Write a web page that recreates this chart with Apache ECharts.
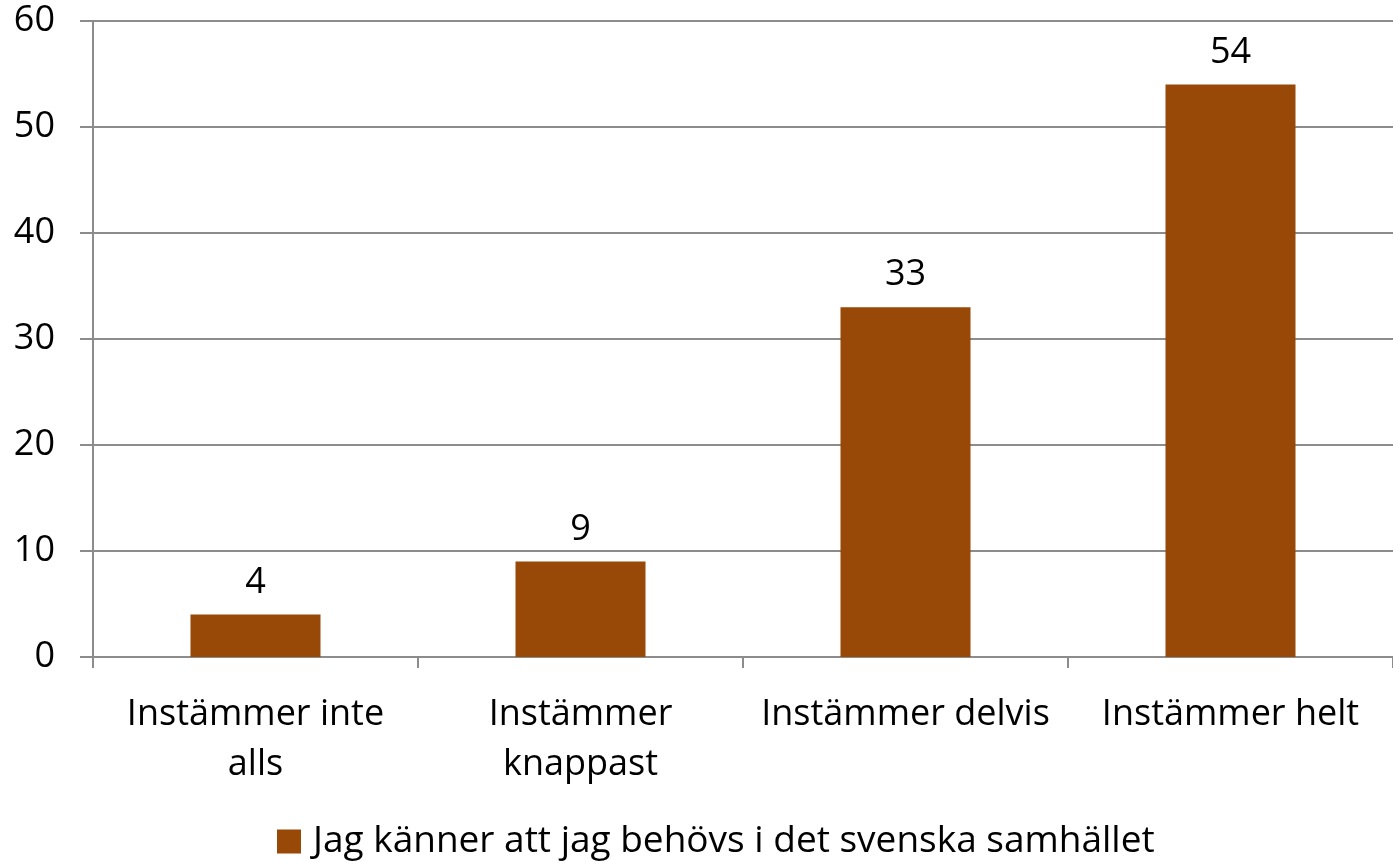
<!DOCTYPE html>
<html><head><meta charset="utf-8">
<script src="https://cdn.jsdelivr.net/npm/echarts@6/dist/echarts.min.js"></script>
<style>html,body{margin:0;padding:0;background:#fff}#c{width:1393px;height:861px}</style>
</head><body><div id="c"></div>
<script>
var categories = ['Instämmer inte\nalls', 'Instämmer\nknappast', 'Instämmer delvis', 'Instämmer helt'];
var values = [4, 9, 33, 54];
var seriesName = 'Jag känner att jag behövs i det svenska samhället';
var yTicks = {min: 0, max: 60, interval: 10};
var font = '"Open Sans", "Noto Sans", sans-serif';
var chart = echarts.init(document.getElementById('c'));
chart.setOption({
  animation: false,
  textStyle: {fontFamily: font},
  grid: {left: 93, right: -8, top: 21, bottom: 204, containLabel: false},
  legend: {
    top: 818, left: 272,
    itemWidth: 24, itemHeight: 24,
    icon: 'rect',
    textStyle: {fontSize: 37, color: '#000', fontFamily: font, padding: [0, 0, 0, 7]},
    data: [seriesName]
  },
  xAxis: {
    type: 'category', data: categories,
    axisLine: {lineStyle: {color: '#8c8c8c', width: 2}},
    axisTick: {show: true, length: 11, lineStyle: {color: '#8c8c8c', width: 2}},
    axisLabel: {fontSize: 36, color: '#000', margin: 33, lineHeight: 50, interval: 0, fontFamily: font}
  },
  yAxis: {
    type: 'value', min: yTicks.min, max: yTicks.max, interval: yTicks.interval,
    axisLine: {show: true, lineStyle: {color: '#8c8c8c', width: 2}},
    axisTick: {show: true, length: 13, lineStyle: {color: '#8c8c8c', width: 2}},
    splitLine: {lineStyle: {color: '#8c8c8c', width: 2}},
    axisLabel: {fontSize: 36, color: '#000', margin: 38, fontFamily: font}
  },
  series: [{
    name: seriesName, type: 'bar', data: values,
    barWidth: '40%',
    itemStyle: {color: '#984807'},
    label: {show: true, position: 'top', distance: 14, fontSize: 36, color: '#000', fontFamily: font}
  }]
});
</script></body></html>
